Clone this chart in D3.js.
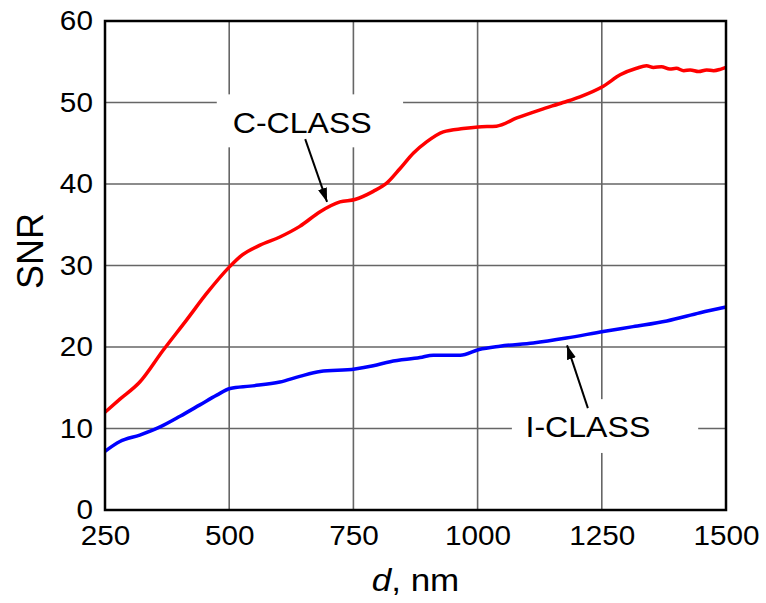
<!DOCTYPE html>
<html>
<head>
<meta charset="utf-8">
<script src="https://cdn.jsdelivr.net/npm/d3@7"></script>
<style>
  body { margin: 0; background: #fff; }
  svg { font-family: "Liberation Sans", Arial, sans-serif; }
</style>
</head>
<body>
<svg id="chart" width="766" height="603"></svg>
<script>
// C-CLASS curve (red)
const cClassD = [250, 280, 320, 367, 414, 455, 500, 522, 562, 602, 642, 683, 723, 753, 790, 817, 844, 871, 898, 931, 971, 1001, 1038, 1079, 1126, 1172, 1206, 1253, 1287, 1320, 1340, 1354, 1370, 1387, 1400, 1415, 1428, 1445, 1461, 1475, 1490, 1500];
const cClassSNR = [12.0, 13.6, 15.7, 19.6, 23.3, 26.6, 29.8, 31.1, 32.5, 33.5, 34.8, 36.6, 37.8, 38.1, 39.1, 40.1, 41.9, 43.8, 45.2, 46.4, 46.8, 47.0, 47.1, 48.1, 49.1, 50.0, 50.7, 52.0, 53.4, 54.2, 54.5, 54.3, 54.4, 54.1, 54.2, 53.9, 54.0, 53.8, 54.0, 53.9, 54.1, 54.3];

// I-CLASS curve (blue)
const iClassD = [250, 280, 320, 361, 401, 441, 475, 502, 542, 602, 642, 683, 753, 790, 824, 884, 911, 965, 1003, 1045, 1112, 1179, 1253, 1313, 1381, 1448, 1500];
const iClassSNR = [7.2, 8.4, 9.2, 10.2, 11.5, 12.9, 14.1, 14.9, 15.2, 15.7, 16.4, 17.0, 17.3, 17.7, 18.2, 18.7, 19.0, 19.0, 19.7, 20.1, 20.5, 21.1, 21.9, 22.5, 23.2, 24.2, 24.9];

const xTicks = [250, 500, 750, 1000, 1250, 1500];
const yTicks = [0, 10, 20, 30, 40, 50, 60];

// annotations in data units
const labels = [
  { text: "C-CLASS", d: 647, v: 46.3, box: [475, 850, 44.5, 51.0], from: [653, 45.5], to: [697, 37.8] },
  { text: "I-CLASS", d: 1222, v: 9.0, box: [1069, 1444, 7.0, 13.6], from: [1222, 12.5], to: [1180, 20.2] }
];

const margin = { top: 21, right: 40, bottom: 93, left: 105 };
const svg = d3.select("#chart");
const width = 766 - margin.left - margin.right;
const height = 603 - margin.top - margin.bottom;
const g = svg.append("g").attr("transform", `translate(${margin.left},${margin.top})`);

const x = d3.scaleLinear().domain([250, 1500]).range([0, width]);
const y = d3.scaleLinear().domain([0, 60]).range([height, 0]);

// the original lettering is a bit wider than the font
const stretch = 1.1;

// grid
g.append("g")
  .selectAll("line")
  .data(xTicks.slice(1, -1))
  .join("line")
  .attr("x1", d => x(d)).attr("x2", d => x(d))
  .attr("y1", 0).attr("y2", height)
  .style("stroke", "#666").style("stroke-width", 1.6);
g.append("g")
  .selectAll("line")
  .data(yTicks.slice(1, -1))
  .join("line")
  .attr("x1", 0).attr("x2", width)
  .attr("y1", d => y(d)).attr("y2", d => y(d))
  .style("stroke", "#666").style("stroke-width", 1.6);

// white boxes behind labels
g.append("g")
  .selectAll("rect")
  .data(labels)
  .join("rect")
  .attr("x", d => x(d.box[0]))
  .attr("y", d => y(d.box[3]))
  .attr("width", d => x(d.box[1]) - x(d.box[0]))
  .attr("height", d => y(d.box[2]) - y(d.box[3]))
  .style("fill", "#fff");

// curves
const line = d3.line().x(d => x(d[0])).y(d => y(d[1])).curve(d3.curveMonotoneX);
g.append("path")
  .datum(d3.zip(cClassD, cClassSNR))
  .attr("d", line)
  .style("fill", "none").style("stroke", "#ff0000").style("stroke-width", 3.5);
g.append("path")
  .datum(d3.zip(iClassD, iClassSNR))
  .attr("d", line)
  .style("fill", "none").style("stroke", "#0000ff").style("stroke-width", 3.5);

// arrows
svg.append("defs").append("marker")
  .attr("id", "arrow")
  .attr("viewBox", "0 0 10 10")
  .attr("refX", 10).attr("refY", 5)
  .attr("markerWidth", 7).attr("markerHeight", 4.6)
  .attr("markerUnits", "strokeWidth")
  .attr("orient", "auto")
  .attr("preserveAspectRatio", "none")
  .append("path")
  .attr("d", "M0,0 L10,5 L0,10 z")
  .style("fill", "#000");

g.append("g")
  .selectAll("line")
  .data(labels)
  .join("line")
  .attr("x1", d => x(d.from[0])).attr("y1", d => y(d.from[1]))
  .attr("x2", d => x(d.to[0])).attr("y2", d => y(d.to[1]))
  .style("stroke", "#000").style("stroke-width", 2)
  .attr("marker-end", "url(#arrow)");

g.append("g")
  .selectAll("text")
  .data(labels)
  .join("text")
  .attr("transform", d => `translate(${x(d.d)},${y(d.v)}) scale(1.07,1)`)
  .attr("text-anchor", "middle")
  .style("font-size", "30px")
  .style("fill", "#000")
  .text(d => d.text);

// axes
const xAxis = g.append("g")
  .attr("transform", `translate(0,${height})`)
  .call(d3.axisBottom(x).tickValues(xTicks).tickSize(0).tickPadding(16).tickFormat(d3.format("d")));
const yAxis = g.append("g")
  .call(d3.axisLeft(y).tickValues(yTicks).tickSize(0).tickPadding(11));
[xAxis, yAxis].forEach(a => {
  a.select(".domain").remove();
  a.selectAll("text")
    .attr("transform", `scale(${stretch},1)`)
    .style("font-size", "27px").style("fill", "#000")
    .style("font-family", "'Liberation Sans', Arial, sans-serif");
});

// frame
g.append("rect")
  .attr("width", width).attr("height", height)
  .style("fill", "none").style("stroke", "#000").style("stroke-width", 2.5);

// axis titles
svg.append("text")
  .attr("transform", `translate(43,251) rotate(-90)`)
  .attr("text-anchor", "middle")
  .style("font-size", "36px")
  .text("SNR");

const xt = svg.append("text")
  .attr("transform", `translate(${margin.left + width / 2},591) scale(1.13,1)`)
  .attr("text-anchor", "middle")
  .style("font-size", "31px");
xt.append("tspan").style("font-style", "italic").text("d");
xt.append("tspan").text(", nm");
</script>
</body>
</html>
